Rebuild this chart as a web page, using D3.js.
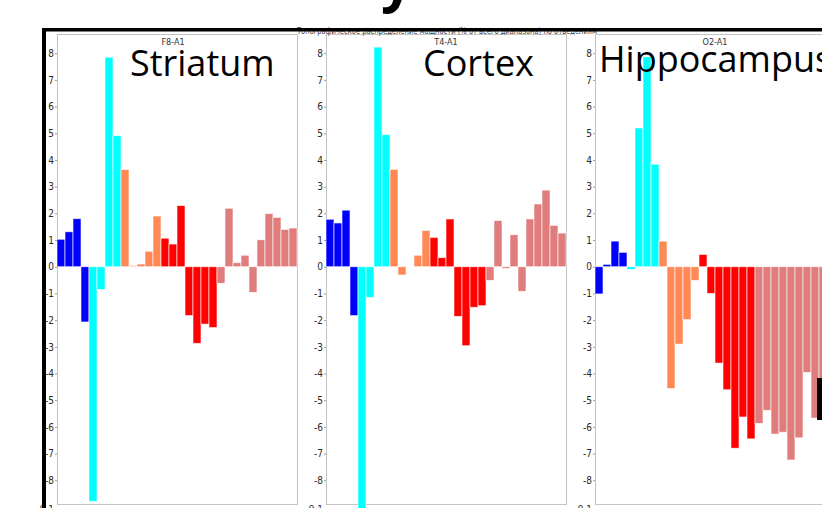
<!DOCTYPE html>
<html>
<head>
<meta charset="utf-8">
<script src="https://cdn.jsdelivr.net/npm/d3@7/dist/d3.min.js"></script>
<style>
  html, body { margin: 0; padding: 0; background: #fff; }
  svg { display: block; }
</style>
</head>
<body>
<svg id="chart" width="822" height="508"></svg>
<script>
// Spectral bins (30 per lead) and the band each bin belongs to
const bins = ["1","2","3","4","5","6","7","8","9","10","11","12","13","14","15",
              "16","17","18","19","20","21","22","23","24","25","26","27","28","29","30"];
const binBand = [0,0,0,0, 1,1,1,1, 2,2,2,2,2, 3,3,3,3,3,3,3, 4,4,4,4,4,4,4,4,4,4];
const bandColors = ["#0000ff", "#00ffff", "#ff8855", "#ff0000", "#e07c7c"];

// Relative power change per bin, % of total range
const striatum = [1.03, 1.31, 1.80, -2.07, -8.79, -0.85, 7.85, 4.91, 3.64, 0.04,
                  0.10, 0.58, 1.90, 1.07, 0.85, 2.29, -1.83, -2.87, -2.15, -2.28,
                  -0.62, 2.19, 0.15, 0.43, -0.96, 1.01, 1.99, 1.85, 1.40, 1.45];
const cortex = [1.78, 1.64, 2.12, -1.83, -9.40, -1.15, 8.23, 4.95, 3.65, -0.31,
                0.00, 0.43, 1.36, 1.10, 0.34, 1.79, -1.86, -2.96, -1.52, -1.46,
                -0.51, 1.73, -0.06, 1.20, -0.92, 1.79, 2.35, 2.87, 1.55, 1.26];
const hippocampus = [-1.02, 0.09, 0.96, 0.54, -0.10, 5.20, 7.87, 3.84, 0.96, -4.56,
                     -2.90, -1.98, -0.51, 0.46, -1.00, -3.61, -4.61, -6.80, -5.63, -6.45,
                     -5.87, -5.38, -6.27, -6.20, -7.24, -6.41, -3.96, -5.67, -4.43];

const leads = ["F8-A1", "T4-A1", "O2-A1"];
const regions = ["Striatum", "Cortex", "Hippocampus"];
const yTicks = [8, 7, 6, 5, 4, 3, 2, 1, 0, -1, -2, -3, -4, -5, -6, -7, -8, -9.1];
const header = "Топографическое распределение мощности (% от всего диапазона) по отведениям";

const svg = d3.select("#chart");
svg.append("rect").attr("width", 822).attr("height", 508).attr("fill", "#fff");

const panelW = 240;
const panelLeft = [57, 326, 595];
const plotTop = 34, plotBottom = 504;

const y = d3.scaleLinear().domain([-8.89, 8.72]).range([plotBottom, plotTop]);

const panels = [
  { lead: leads[0], region: regions[0], values: striatum,    labelX: 130, labelY: 76 },
  { lead: leads[1], region: regions[1], values: cortex,      labelX: 423, labelY: 76 },
  { lead: leads[2], region: regions[2], values: hippocampus, labelX: 599, labelY: 72 }
];

panels.forEach((p, i) => {
  const x0 = panelLeft[i];
  const x = d3.scaleBand().domain(bins).range([x0, x0 + panelW]).padding(0);
  const g = svg.append("g");

  // frame
  g.append("rect")
    .attr("x", x0 + 0.5).attr("y", plotTop + 0.5)
    .attr("width", panelW).attr("height", plotBottom - plotTop)
    .attr("fill", "none").attr("stroke", "#c4c4c4").attr("stroke-width", 1);

  // bars
  g.selectAll("rect.bar")
    .data(p.values.map((v, k) => ({ bin: bins[k], v, band: binBand[k] })))
    .join("rect")
    .attr("class", "bar")
    .attr("x", d => x(d.bin))
    .attr("width", x.bandwidth())
    .attr("y", d => y(Math.max(0, d.v)))
    .attr("height", d => Math.abs(y(d.v) - y(0)))
    .attr("fill", d => bandColors[d.band])
    .attr("stroke", "#ffffff")
    .attr("stroke-opacity", 0.75)
    .attr("stroke-width", 0.8);

  // y axis
  const axis = g.append("g")
    .attr("transform", `translate(${x0},0)`)
    .call(d3.axisLeft(y).tickValues(yTicks).tickSize(2).tickPadding(1)
      .tickFormat(d => String(d)));
  axis.select(".domain").remove();
  axis.selectAll(".tick line").attr("stroke", "#9a9a9a");
  axis.selectAll(".tick text")
    .attr("fill", "#2a2a2a")
    .style("font-family", "'Liberation Sans Narrow', 'DejaVu Sans Condensed', sans-serif")
    .style("font-size", "10px");

  // lead name
  g.append("text")
    .attr("x", x0 + panelW / 2 - (i === 0 ? 4 : 0)).attr("y", 45)
    .attr("text-anchor", "middle")
    .attr("fill", "#333")
    .style("font-family", "'Liberation Sans Narrow', 'DejaVu Sans Condensed', sans-serif")
    .style("font-size", "9px")
    .text(p.lead);

  // region name
  svg.append("text")
    .attr("x", p.labelX).attr("y", p.labelY)
    .attr("fill", "#000")
    .style("font-family", "'Open Sans', 'Noto Sans', sans-serif")
    .style("font-size", "36px")
    .text(p.region);
});

// sheet heading, mostly under the frame line
svg.append("text")
  .attr("x", 297).attr("y", 33.8)
  .attr("textLength", 300)
  .attr("lengthAdjust", "spacingAndGlyphs")
  .attr("fill", "#444")
  .style("font-family", "'Liberation Sans Narrow', 'DejaVu Sans Condensed', sans-serif")
  .style("font-size", "9px")
  .text(header);

// slide title descender above the frame
svg.append("text")
  .attr("x", 381).attr("y", 1)
  .attr("fill", "#000")
  .style("font-family", "'Open Sans', sans-serif")
  .style("font-weight", "bold")
  .style("font-size", "56px")
  .text("y");

// thick black frame
svg.append("rect").attr("x", 42).attr("y", 28).attr("width", 780).attr("height", 3.5).attr("fill", "#000");
svg.append("rect").attr("x", 42).attr("y", 28).attr("width", 4).attr("height", 480).attr("fill", "#000");
svg.append("rect").attr("x", 817).attr("y", 378).attr("width", 5).attr("height", 42).attr("fill", "#000");
</script>
</body>
</html>
